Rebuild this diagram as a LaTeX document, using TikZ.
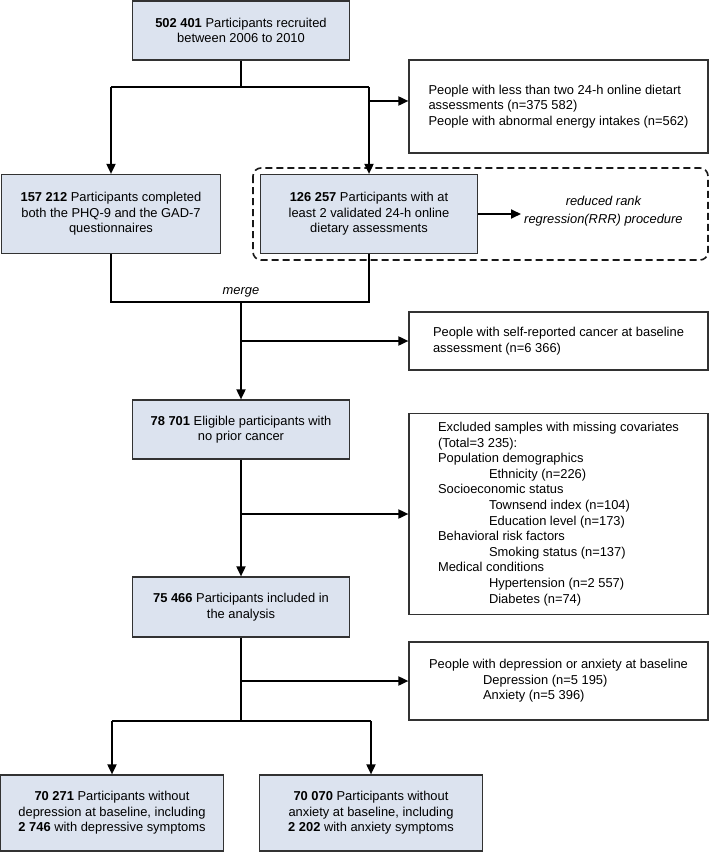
\documentclass[tikz,border=0pt]{standalone}
\usepackage{fontspec}
\setmainfont{Liberation Sans}
\usetikzlibrary{arrows.meta, positioning}
\usepackage{xcolor}
\definecolor{boxfill}{RGB}{220,227,239}
\definecolor{boxline}{RGB}{50,50,50}

\begin{document}
\begin{tikzpicture}[x=1pt, y=-1pt,
    every node/.style={font=\fontsize{12.9}{15.6}\selectfont},
    mainbox/.style={draw=boxline, fill=boxfill, line width=1.2pt, align=center, inner sep=0pt, minimum width=217pt},
    sidebox/.style={draw=boxline, fill=white, line width=1.2pt, align=left, inner sep=0pt, minimum width=299pt},
    conn/.style={line width=1.8pt, draw=black, line join=miter},
    arrowconn/.style={conn, -{Triangle[length=10pt, width=9pt]}},
    rrrframe/.style={draw=black!90, line width=1.6pt, dash pattern=on 7pt off 4pt, rounded corners=8pt}
]
    \useasboundingbox (0,0) rectangle (710,853);

    % Recruitment and dietary exclusions
    \node[mainbox, minimum height=59pt] (recruit) at (241,30.5) {\textbf{502 401} Participants recruited\\between 2006 to 2010};
    \node[sidebox, minimum height=93pt] (excl1) at (558.5,106.5) {People with less than two 24-h online dietart\\assessments (n=375 582)\\People with abnormal energy intakes (n=562)};

    % Questionnaire and diet cohorts
    \node[mainbox, minimum width=219pt, minimum height=79pt] (phq) at (111,214) {\textbf{157 212} Participants completed\\both the PHQ-9 and the GAD-7\\questionnaires};
    \node[mainbox, minimum height=79pt] (diet) at (369,214) {\textbf{126 257} Participants with at\\least 2 validated 24-h online\\dietary assessments};
    \node[anchor=west, align=center, inner sep=3pt, font=\fontsize{12.9}{17.5}\selectfont\itshape] (rrr) at (521,211) {reduced rank\\regression(RRR) procedure};
    \draw[rrrframe] (253,168) rectangle (708,260);

    \node[font=\fontsize{12.9}{15.6}\selectfont\itshape] (mergelbl) at (241,292) {merge};

    % Cancer and covariate exclusions
    \node[sidebox, minimum height=58pt] (excl2) at (558.5,341) {People with self-reported cancer at baseline\\assessment (n=6 366)};
    \node[mainbox, minimum height=59pt] (elig) at (241,429.5) {\textbf{78 701} Eligible participants with\\no prior cancer};
    \node[sidebox, minimum height=201pt] (excl3) at (558.5,514) {Excluded samples with missing covariates\\(Total=3 235):\\Population demographics\\\hspace*{51pt}Ethnicity (n=226)\\Socioeconomic status\\\hspace*{51pt}Townsend index (n=104)\\\hspace*{51pt}Education level (n=173)\\Behavioral risk factors\\\hspace*{51pt}Smoking status (n=137)\\Medical conditions\\\hspace*{51pt}Hypertension (n=2 557)\\\hspace*{51pt}Diabetes (n=74)};
    \node[mainbox, minimum height=60pt] (incl) at (241,607) {\textbf{75 466} Participants included in\\the analysis};

    % Baseline exclusions and final samples
    \node[sidebox, minimum height=78pt] (excl4) at (558.5,681) {People with depression or anxiety at baseline\\\hspace*{54pt}Depression (n=5 195)\\\hspace*{54pt}Anxiety (n=5 396)};
    \node[mainbox, minimum width=223pt, minimum height=76pt] (dep) at (112,813) {\textbf{70 271} Participants without\\depression at baseline, including\\\textbf{2 746} with depressive symptoms};
    \node[mainbox, minimum width=223pt, minimum height=76pt] (anx) at (371,813) {\textbf{70 070} Participants without\\anxiety at baseline, including\\\textbf{2 202} with anxiety symptoms};

    % Junctions
    \coordinate (split1) at (241,87);
    \coordinate (tap1) at (369,101);
    \coordinate (join) at (241,302);
    \coordinate (split2) at (241,721);

    % Connectors
    \draw[conn] (recruit.south) -- (split1);
    \draw[conn] (phq.north |- split1) -- (diet.north |- split1);
    \draw[arrowconn] (phq.north |- split1) -- (phq.north);
    \draw[arrowconn] (diet.north |- split1) -- (diet.north);
    \draw[arrowconn] (tap1) -- (tap1 -| excl1.west);
    \draw[arrowconn] (diet.east) -- (diet.east -| rrr.west);
    \draw[conn] (phq.south) |- (diet.south |- join) -- (diet.south);
    \draw[arrowconn] (join) -- (elig.north);
    \draw[arrowconn] (join |- excl2.west) -- (excl2.west);
    \draw[arrowconn] (elig.south) -- (incl.north);
    \draw[arrowconn] (elig.south |- excl3.west) -- (excl3.west);
    \draw[conn] (incl.south) -- (split2);
    \draw[arrowconn] (incl.south |- excl4.west) -- (excl4.west);
    \draw[conn] (dep.north |- split2) -- (anx.north |- split2);
    \draw[arrowconn] (dep.north |- split2) -- (dep.north);
    \draw[arrowconn] (anx.north |- split2) -- (anx.north);
\end{tikzpicture}
\end{document}
